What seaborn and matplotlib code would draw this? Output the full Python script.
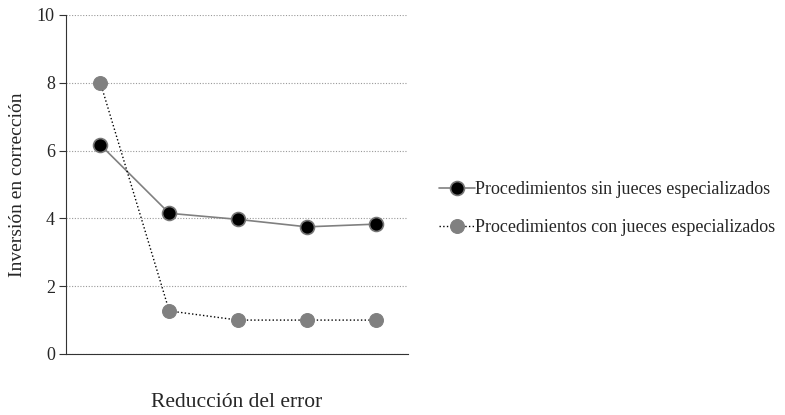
import pandas as pd
import matplotlib.pyplot as plt
import seaborn as sns

# Data
steps = [1, 2, 3, 4, 5]
sin_jueces = [6.17, 4.15, 3.97, 3.75, 3.83]
con_jueces = [8.0, 1.27, 1.0, 1.0, 1.0]
label_sin = "Procedimientos sin jueces especializados"
label_con = "Procedimientos con jueces especializados"

df = pd.DataFrame({"paso": steps, "sin": sin_jueces, "con": con_jueces})

sns.set_style("white")
plt.rcParams['font.family'] = ['Liberation Serif', 'DejaVu Serif']

fig = plt.figure(figsize=(7.85, 4.15), dpi=100)
ax = fig.add_axes([0.084, 0.147, 0.436, 0.817])

sns.lineplot(data=df, x="paso", y="sin", ax=ax, color="#808080", linewidth=1.2,
             marker="o", markersize=10, markerfacecolor="black",
             markeredgecolor="#777777", markeredgewidth=1.2, label=label_sin)
sns.lineplot(data=df, x="paso", y="con", ax=ax, color="black", linewidth=1.0,
             linestyle=":", marker="o", markersize=10, markerfacecolor="#808080",
             markeredgecolor="#808080", label=label_con)

ax.set_ylim(0, 10)
ax.set_xlim(0.5, 5.47)
ax.set_yticks([0, 2, 4, 6, 8, 10])
ax.set_xticks([])
ax.yaxis.grid(True, linestyle=(0, (1, 1.5)), color="#999999", linewidth=0.8)
for s in ["top", "right"]:
    ax.spines[s].set_visible(False)
ax.spines["left"].set_color("#333333")
ax.spines["bottom"].set_color("#333333")
ax.tick_params(axis="y", left=True, length=5, width=0.8, color="#333333",
               labelsize=13, pad=3)

ax.set_xlabel("Reducción del error", fontsize=15.5, labelpad=28)
ax.set_ylabel("Inversión en corrección", fontsize=14, labelpad=8)

leg = ax.legend(loc="center left", bbox_to_anchor=(1.07, 0.428), frameon=False,
                fontsize=13, handlelength=2.0, handletextpad=0.0,
                labelspacing=1.15, borderaxespad=0.0)

plt.savefig("out.png", dpi=100)
plt.close()
